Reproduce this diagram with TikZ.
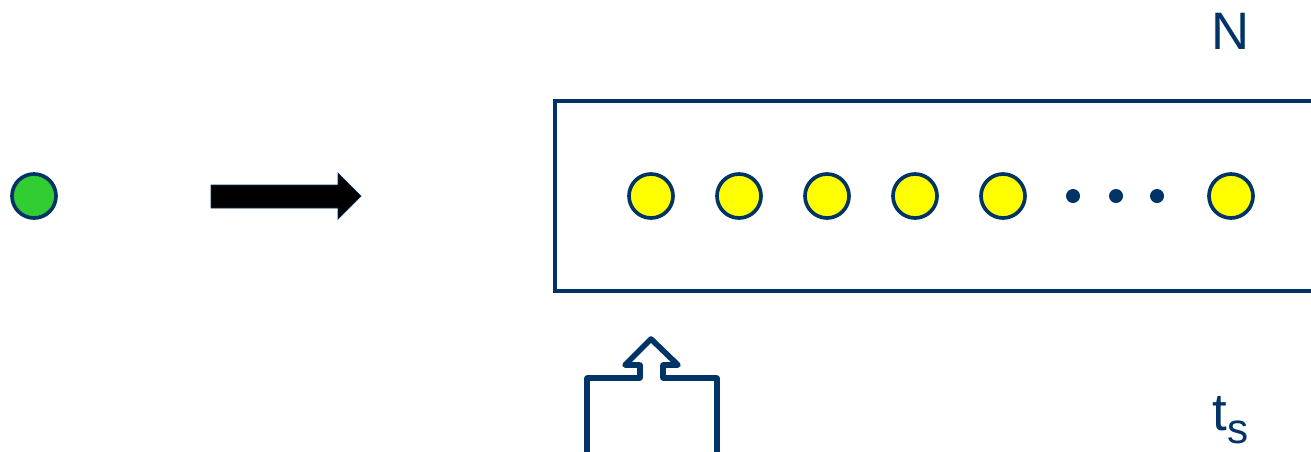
\documentclass[tikz,border=0pt]{standalone}
\usepackage{fontspec}
\setmainfont{Liberation Sans}
\definecolor{navyline}{RGB}{0,51,102}
\definecolor{pointgreen}{RGB}{50,205,50}
\definecolor{pointyellow}{RGB}{255,255,0}
\usetikzlibrary{positioning}
\begin{document}
\begin{tikzpicture}[x=0.02cm, y=-0.02cm,
    point/.style={circle, draw=navyline, line width=2.1pt, minimum size=0.88cm, inner sep=0pt},
    dotsmall/.style={circle, fill=navyline, minimum size=0.28cm, inner sep=0pt},
    label text/.style={text=navyline, font=\fontsize{30}{32}\selectfont, inner sep=0pt}]
  % Cadre de la page
  \clip (0,0) rectangle (1311,451);

  % Point de départ
  \node[point, fill=pointgreen] (src) at (34,196) {};

  % Flèche pleine
  \draw[navyline, fill=black, line width=0.4pt]
    (211,185) -- (338,185) -- (338,173) -- (361,196) -- (338,219)
    -- (338,208) -- (211,208) -- cycle;

  % Boîte des N points
  \draw[navyline, line width=2.3pt] (555,101) rectangle (1340,291);
  \foreach \x [count=\i] in {651,739,827,915,1003} {
    \node[point, fill=pointyellow] (p\i) at (\x,196) {};
  }
  \foreach \x [count=\i] in {1073,1116,1157} {
    \node[dotsmall] (d\i) at (\x,196) {};
  }
  \node[point, fill=pointyellow] (pN) at (1231,196) {};

  % Entrée par le bas
  \draw[navyline, line width=3.2pt, line join=round]
    (587,460) -- (587,378) -- (640,378) -- (640,365) -- (625,365)
    -- (651,339) -- (678,365) -- (663,365) -- (663,378) -- (717,378)
    -- (717,460);

  % Étiquettes
  \node[label text] (nlabel) at (1231,31) {N};
  \node[label text, anchor=base west] (tlabel) at (1212,430)
    {t\raisebox{-0.27cm}{\fontsize{24}{26}\selectfont s}};
\end{tikzpicture}
\end{document}
